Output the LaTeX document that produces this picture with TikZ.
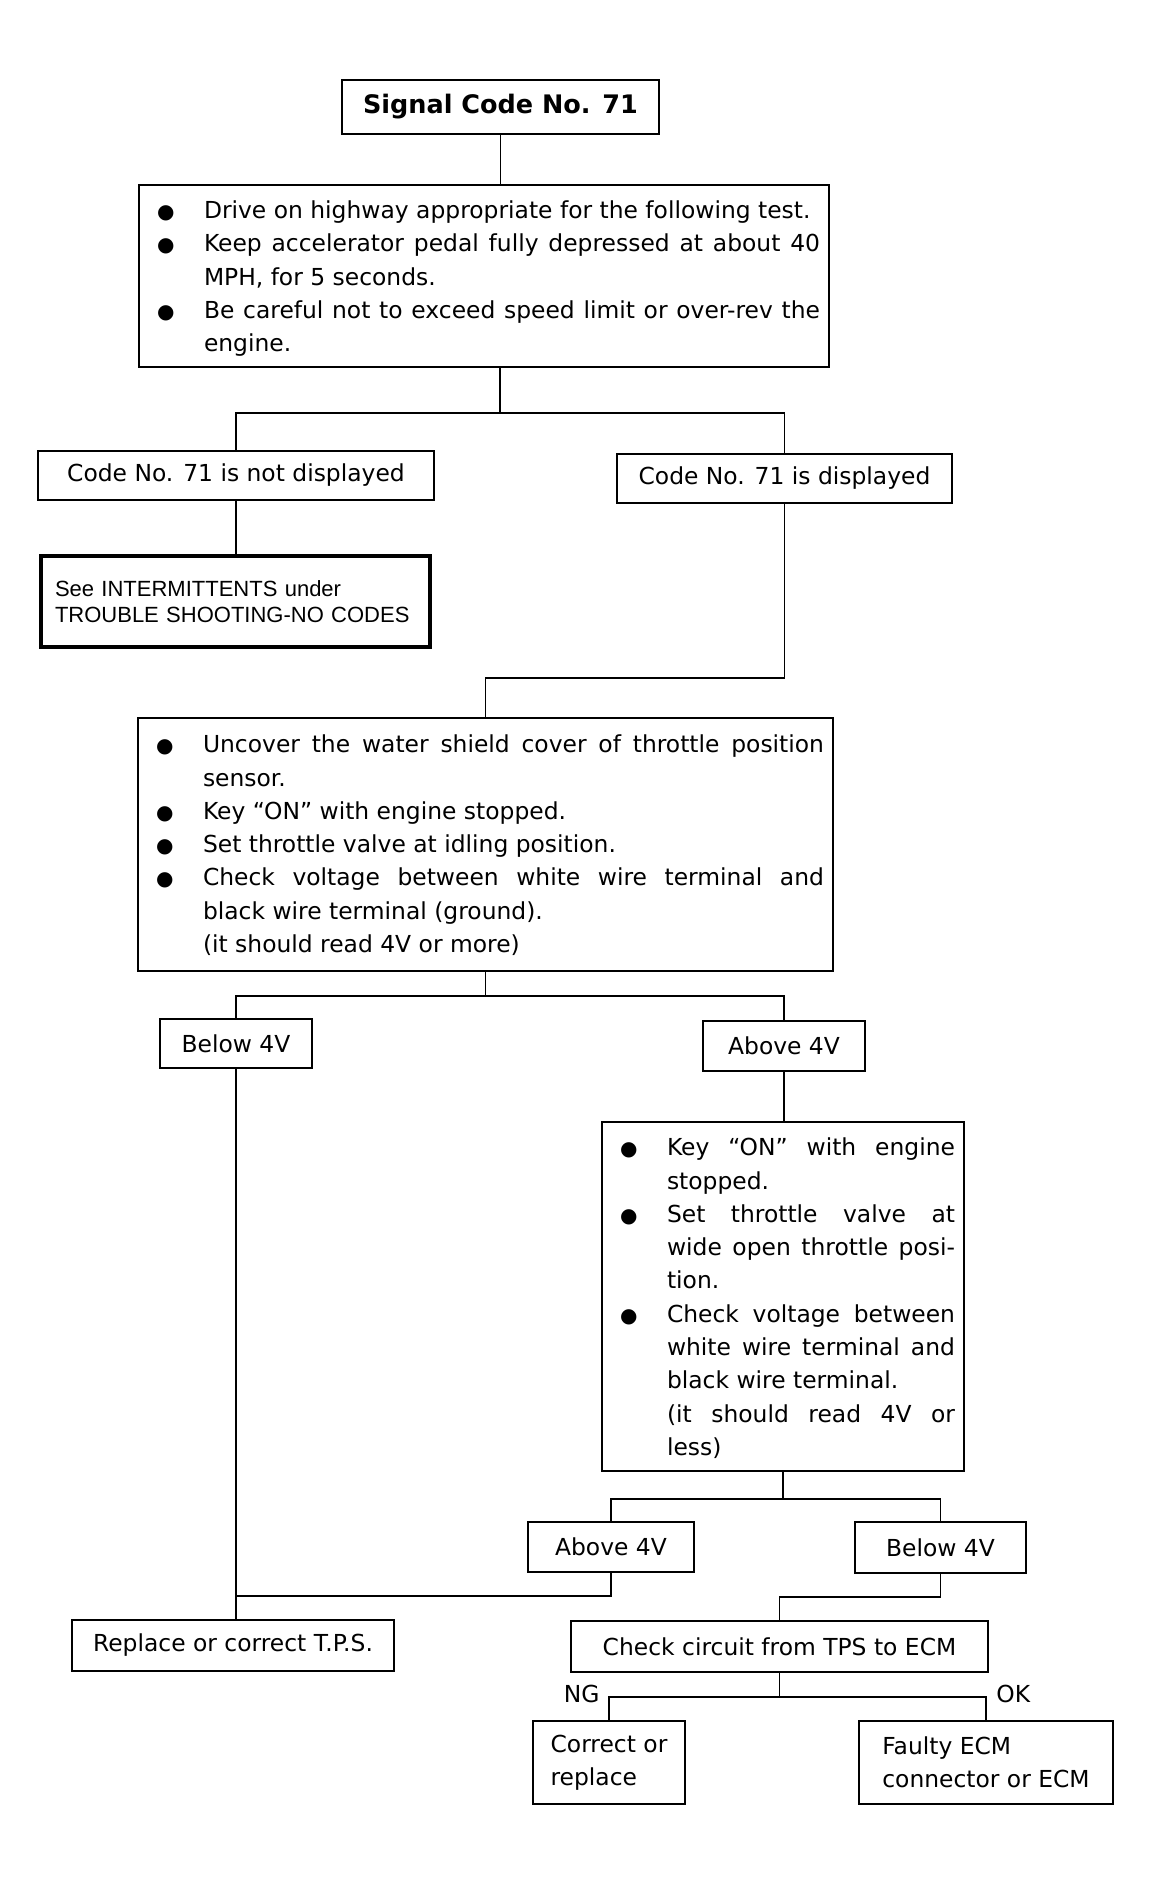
\documentclass[tikz,border=0pt]{standalone}
\usepackage{fontspec}
\setmainfont{DejaVu Sans}
\newfontfamily\narrowfont{Liberation Sans}
\usetikzlibrary{calc}
\tolerance=10000
\hbadness=10000
\hyphenpenalty=10000
\exhyphenpenalty=10000
\newcommand\bulglyph{{\fontsize{10}{10}\selectfont ●}}
\newcommand\bitem{\par\noindent\hangindent=28pt\hangafter=0\llap{\makebox[28pt][l]{\hspace{4.5pt}\bulglyph}}\ignorespaces}
\newcommand\padbelow[1]{\par\hrule height 0pt depth #1 width 0pt\relax}
\begin{document}
\begin{tikzpicture}[x=0.5pt,y=-0.5pt,
  box/.style={draw, line width=1pt, inner sep=0pt, font=\fontsize{11.7}{16.65}\selectfont},
  titlebox/.style={box, font=\bfseries\fontsize{12.75}{15}\selectfont},
  bullets/.style={box, inner xsep=4.5pt, align=justify},
  twoline/.style={box, align=left},
  conn/.style={line width=0.8pt},
  lbl/.style={inner sep=0pt, font=\fontsize{11.7}{13}\selectfont}]

\useasboundingbox (0,0) rectangle (1151,1882);

\node[titlebox, minimum width=158.5pt, minimum height=27pt] (sig) at (500.5,107) {Signal Code No. 71};

\node[bullets, text width=336pt, minimum width=345pt, minimum height=91pt] (b1) at (484,276) {%
\bitem Drive on highway appropriate for the following test.
\bitem Keep accelerator pedal fully depressed at about 40\linebreak MPH, for 5 seconds.
\bitem Be careful not to exceed speed limit or over-rev the\linebreak engine.\padbelow{5pt}};

\node[box, minimum width=198pt, minimum height=24.5pt] (nd) at (236,475.5) {Code No. 71 is not displayed};
\node[box, minimum width=167.5pt, minimum height=24.5pt] (dp) at (784.5,478.5) {Code No. 71 is displayed};

\node[box, line width=2pt, inner xsep=7pt, align=left, text width=180.5pt, minimum width=194.5pt, minimum height=45.5pt, font=\narrowfont\fontsize{11}{13}\selectfont] (see) at (235.5,601.5) {See INTERMITTENTS under\\TROUBLE SHOOTING-NO CODES};

\node[bullets, text width=338.5pt, minimum width=347.5pt, minimum height=126.5pt] (b2) at (485.5,844.5) {%
\bitem Uncover the water shield cover of throttle position\linebreak sensor.
\bitem Key “ON” with engine stopped.
\bitem Set throttle valve at idling position.
\bitem Check voltage between white wire terminal and\linebreak black wire terminal (ground).\newline (it should read 4V or more)\padbelow{7pt}};

\node[box, minimum width=76pt, minimum height=24.5pt] (bl1) at (236,1043.5) {Below 4V};
\node[box, minimum width=81pt, minimum height=25pt] (ab1) at (784,1046) {Above 4V};

\node[bullets, text width=172pt, minimum width=181pt, minimum height=174.5pt] (b3) at (783,1296.5) {%
\bitem Key “ON” with engine\linebreak stopped.
\bitem Set throttle valve at\linebreak wide open throttle posi-\linebreak tion.
\bitem Check voltage between\linebreak white wire terminal and\linebreak black wire terminal.\newline (it should read 4V or\linebreak less)\padbelow{6pt}};

\node[box, minimum width=83pt, minimum height=25pt] (ab2) at (611,1547) {Above 4V};
\node[box, minimum width=85.5pt, minimum height=25.5pt] (bl2) at (940.5,1547.5) {Below 4V};

\node[box, minimum width=161pt, minimum height=25.5pt] (rep) at (233,1645.5) {Replace or correct T.P.S.};
\node[box, minimum width=208.5pt, minimum height=25.5pt] (chk) at (779.5,1646.5) {Check circuit from TPS to ECM};

\node[twoline, minimum width=76pt, minimum height=41.5pt] (cor) at (609,1762.5) {Correct or\\replace};
\node[twoline, minimum width=127pt, minimum height=41.5pt] (fau) at (986,1762.5) {Faulty ECM\\connector or ECM};

\coordinate (j1) at (500,413);
\coordinate (j2) at (485.5,678);
\coordinate (j3) at (485.5,996);
\coordinate (j4) at (783,1499);
\coordinate (j5) at (236,1596);
\coordinate (j6) at (779.5,1597);
\coordinate (j7) at (779.5,1697);

\draw[conn] (sig.south) -- (sig.south |- b1.north);
\draw[conn] (j1 |- b1.south) -- (j1);
\draw[conn] (nd.north) |- (j1) -| (dp.north);
\draw[conn] (nd.south) -- (nd.south |- see.north);
\draw[conn] (dp.south) |- (j2) -- (b2.north);
\draw[conn] (b2.south) -- (j3);
\draw[conn] (bl1.north) |- (j3) -| (ab1.north);
\draw[conn] (ab1.south) -- (ab1.south |- b3.north);
\draw[conn] (b3.south) -- (j4);
\draw[conn] (ab2.north) |- (j4) -| (bl2.north);
\draw[conn] (bl1.south) -- (bl1.south |- rep.north);
\draw[conn] (ab2.south) |- (j5);
\draw[conn] (bl2.south) |- (j6) -- (chk.north);
\draw[conn] (chk.south) -- (j7);
\draw[conn] (cor.north) |- (j7) -| (fau.north);

\node[lbl, anchor=east] (ng) at ($(cor.north |- j7)+(-9,-3.5)$) {NG};
\node[lbl, anchor=west] (ok) at ($(fau.north |- j7)+(10,-3.5)$) {OK};
\end{tikzpicture}
\end{document}
